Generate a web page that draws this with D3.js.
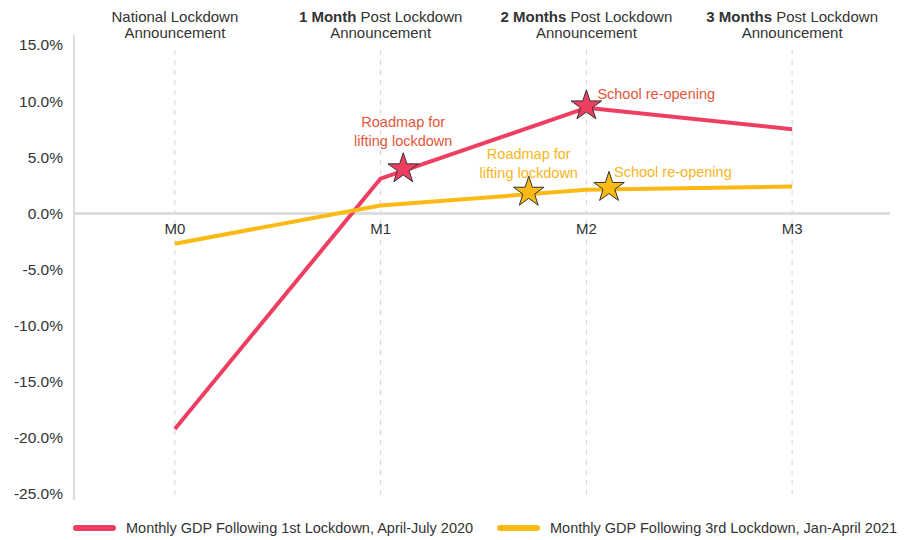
<!DOCTYPE html>
<html>
<head>
<meta charset="utf-8">
<script src="https://cdn.jsdelivr.net/npm/d3@7"></script>
<style>
  body { margin: 0; background: #fff; }
  text { font-family: "Liberation Sans", Arial, sans-serif; }
</style>
</head>
<body>
<svg id="chart" width="914" height="540"></svg>
<script>
// data
var months = ["M0", "M1", "M2", "M3"];
var headBold = ["", "1 Month", "2 Months", "3 Months"];
var headRest = ["National Lockdown", "Post Lockdown", "Post Lockdown", "Post Lockdown"];
var firstLockdown = [-19.2, 3.1, 9.4, 7.5];
var thirdLockdown = [-2.7, 0.7, 2.1, 2.4];
var yTicks = [15, 10, 5, 0, -5, -10, -15, -20, -25];
var seriesNames = ["Monthly GDP Following 1st Lockdown, April-July 2020",
                   "Monthly GDP Following 3rd Lockdown, Jan-April 2021"];
// events: position in months, series index, label lines
var events = [
  {pos: 1.11, s: 0, lines: ["Roadmap for", "lifting lockdown"]},
  {pos: 2.0,  s: 0, lines: ["School re-opening"]},
  {pos: 1.72, s: 1, lines: ["Roadmap for", "lifting lockdown"]},
  {pos: 2.11, s: 1, lines: ["School re-opening"]}
];

var colors = ["#ee3f63", "#fbba13"];
var noteColors = ["#e2573a", "#f7b51c"];
var series = [firstLockdown, thirdLockdown];

var svg = d3.select("#chart");
var plotLeft = 74, plotRight = 890, plotTop = 45, plotBottom = 494;

var x = d3.scalePoint().domain(months).range([72, 895]).padding(0.5);
var y = d3.scaleLinear().domain([-25, 15]).range([plotBottom, plotTop]);

function xAt(pos) {
  var i = Math.floor(pos), f = pos - i;
  if (i >= months.length - 1) return x(months[months.length - 1]);
  return x(months[i]) + f * (x(months[i + 1]) - x(months[i]));
}
function valAt(arr, pos) {
  var i = Math.floor(pos), f = pos - i;
  if (i >= arr.length - 1) return arr[arr.length - 1];
  return arr[i] + f * (arr[i + 1] - arr[i]);
}

// vertical dashed gridlines
svg.append("g").selectAll("line").data(months).enter().append("line")
  .attr("x1", d => x(d)).attr("x2", d => x(d))
  .attr("y1", 50).attr("y2", 500)
  .attr("stroke", "#d4d4d4").attr("stroke-width", 1)
  .attr("stroke-dasharray", "5,5");

// y axis
var yAxis = d3.axisLeft(y).tickValues(yTicks).tickSize(0).tickPadding(11)
  .tickFormat(d => d.toFixed(1) + "%");
var gY = svg.append("g").attr("transform", `translate(${plotLeft},0)`).call(yAxis);
gY.select(".domain").attr("stroke", "#dcdcdc").attr("stroke-width", 2)
  .attr("d", `M0,${plotTop - 10}V${plotBottom + 6}`);
gY.selectAll("text").attr("font-size", 15.5).attr("fill", "#333")
  .attr("font-family", "Liberation Sans, Arial, sans-serif");

// zero line
svg.append("line")
  .attr("x1", plotLeft).attr("x2", plotRight)
  .attr("y1", y(0)).attr("y2", y(0))
  .attr("stroke", "#dedede").attr("stroke-width", 3);

// x labels
svg.append("g").selectAll("text").data(months).enter().append("text")
  .attr("x", d => x(d)).attr("y", y(0) + 21)
  .attr("text-anchor", "middle").attr("font-size", 15).attr("fill", "#333")
  .text(d => d);

// header labels
var head = svg.append("g").selectAll("g").data(months).enter().append("g");
var line1 = head.append("text")
  .attr("x", d => x(d)).attr("y", 22)
  .attr("text-anchor", "middle").attr("font-size", 15).attr("fill", "#333");
line1.append("tspan").attr("font-weight", "bold").text((d, i) => headBold[i] ? headBold[i] + " " : "");
line1.append("tspan").text((d, i) => headRest[i]);
head.append("text")
  .attr("x", d => x(d)).attr("y", 38)
  .attr("text-anchor", "middle").attr("font-size", 15).attr("fill", "#333")
  .text("Announcement");

// lines
var lineGen = d3.line().x((d, i) => x(months[i])).y(d => y(d));
svg.append("g").selectAll("path").data(series).enter().append("path")
  .attr("d", d => lineGen(d))
  .attr("fill", "none")
  .attr("stroke", (d, i) => colors[i])
  .attr("stroke-width", 4)
  .attr("stroke-linejoin", "round");

// stars
var star = d3.symbol().type(d3.symbolStar).size(290);
svg.append("g").selectAll("path").data(events).enter().append("path")
  .attr("d", star)
  .attr("transform", d => `translate(${xAt(d.pos)},${y(valAt(series[d.s], d.pos)) - 2})`)
  .attr("fill", d => colors[d.s])
  .attr("stroke", "#333").attr("stroke-width", 1);

// annotations
var noteOffsets = [
  {dx: 0, dy: -25, anchor: "middle"},
  {dx: 11, dy: -9, anchor: "start"},
  {dx: 0, dy: -16, anchor: "middle"},
  {dx: 5, dy: -12, anchor: "start"}
];
events.forEach(function (e, k) {
  var o = noteOffsets[k];
  var t = svg.append("text")
    .attr("x", xAt(e.pos) + o.dx)
    .attr("y", y(valAt(series[e.s], e.pos)) + o.dy - (e.lines.length - 1) * 19)
    .attr("text-anchor", o.anchor)
    .attr("font-size", 14.5)
    .attr("fill", noteColors[e.s]);
  e.lines.forEach(function (l, j) {
    t.append("tspan").attr("x", xAt(e.pos) + o.dx).attr("dy", j ? 19 : 0).text(l);
  });
});

// legend
var legendX = [73, 497];
var leg = svg.append("g").selectAll("g").data(seriesNames).enter().append("g")
  .attr("transform", (d, i) => `translate(${legendX[i]},528)`);
leg.append("line").attr("x1", 3).attr("x2", 40).attr("y1", 0).attr("y2", 0)
  .attr("stroke", (d, i) => colors[i]).attr("stroke-width", 6)
  .attr("stroke-linecap", "round");
leg.append("text").attr("x", 53).attr("y", 5)
  .attr("font-size", 14.5).attr("fill", "#333")
  .text(d => d);
</script>
</body>
</html>
